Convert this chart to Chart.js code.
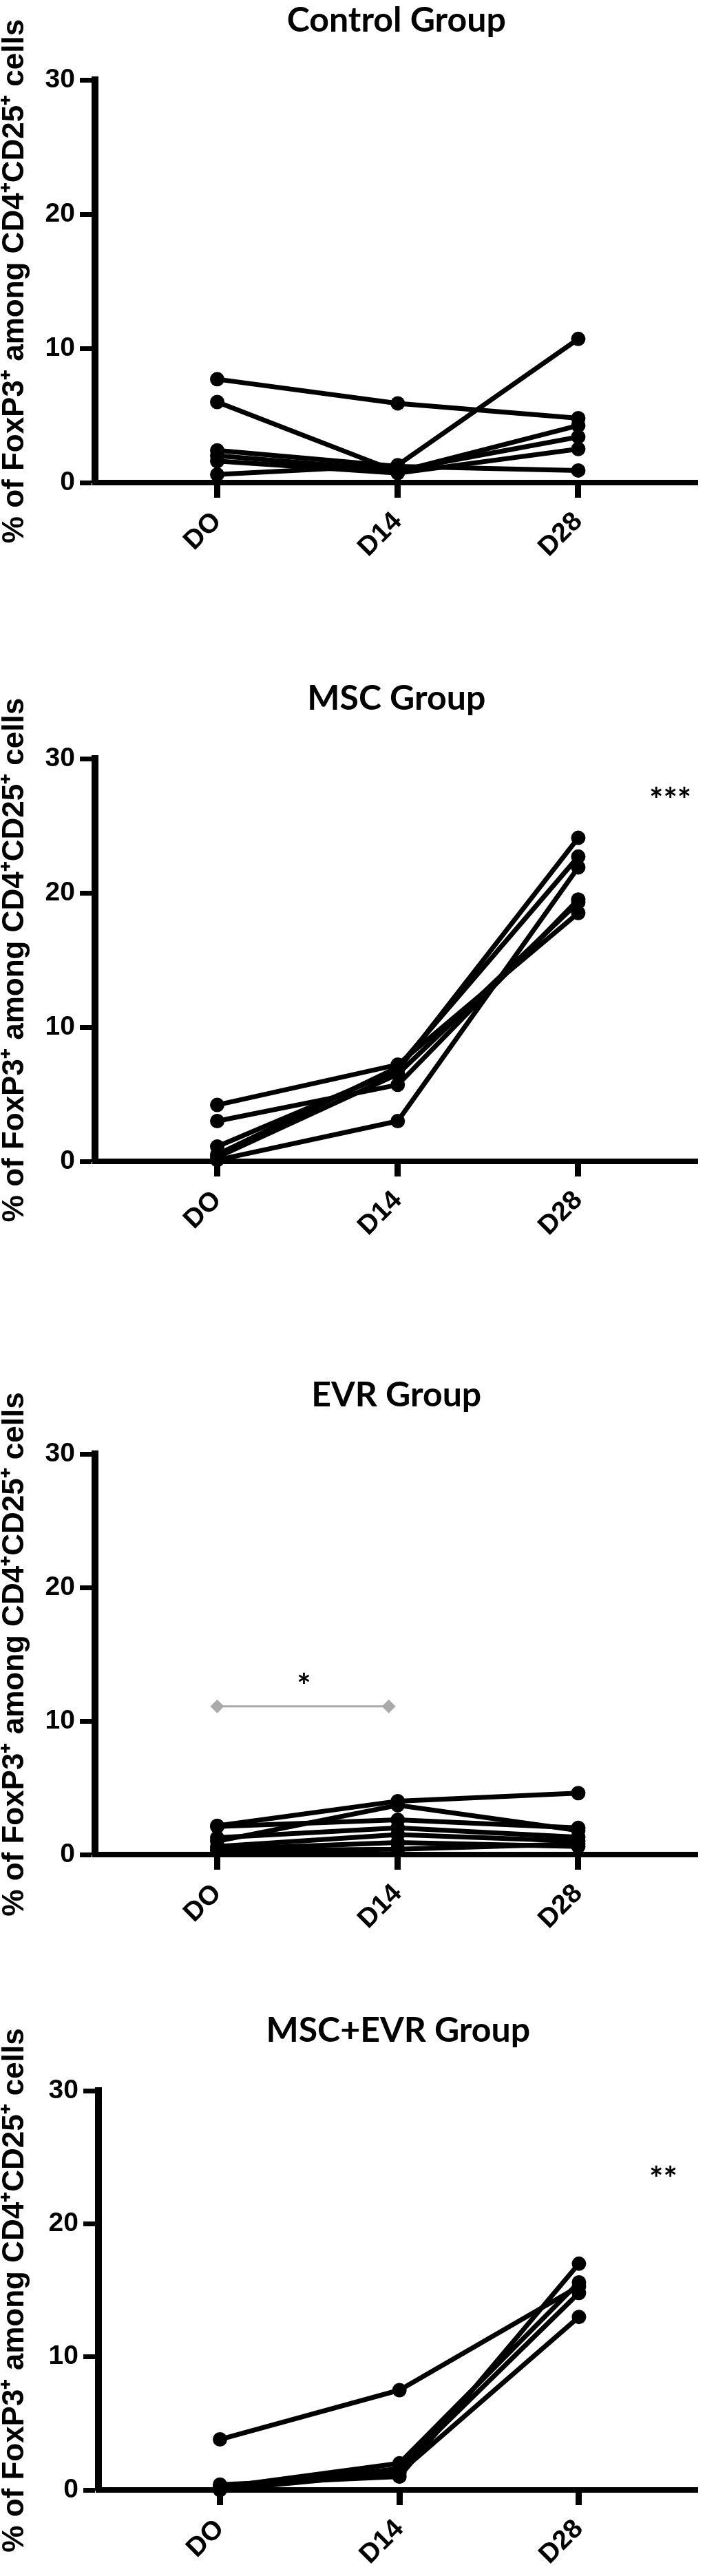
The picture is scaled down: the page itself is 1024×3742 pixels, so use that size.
<!DOCTYPE html>
<html>
<head>
<meta charset="utf-8">
<script src="https://cdn.jsdelivr.net/npm/chart.js@4/dist/chart.umd.min.js"></script>
<style>
  html, body { margin: 0; padding: 0; background: #fff; }
  body { width: 1024px; height: 3742px; position: relative; overflow: hidden; }
  .panel { position: absolute; left: 0; width: 1024px; height: 930px; }
</style>
</head>
<body>
<div class="panel" id="p0"><canvas id="c0"></canvas></div>
<div class="panel" id="p1"><canvas id="c1"></canvas></div>
<div class="panel" id="p2"><canvas id="c2"></canvas></div>
<div class="panel" id="p3"><canvas id="c3"></canvas></div>
<script>
// ---------- DATA ----------
const days = ['DO', 'D14', 'D28'];
const yTickValues = [0, 10, 20, 30];
const yAxisTitle = '% of FoxP3\u207A among CD4\u207ACD25\u207A cells';
const groupTitles = ['Control Group', 'MSC Group', 'EVR Group', 'MSC+EVR Group'];

// one row per animal: [DO, D14, D28]
const controlValues = [
  [7.7, 5.9, 4.8],
  [6.0, 0.8, 4.25],
  [2.4, 1.2, 0.9],
  [2.0, 0.9, 3.4],
  [1.6, 0.7, 2.5],
  [0.6, 1.3, 10.7]
];
const mscValues = [
  [4.2, 7.2, 18.5],
  [3.0, 5.7, 19.5],
  [1.1, 6.8, 24.1],
  [0.5, 7.0, 22.7],
  [0.1, 3.0, 21.9],
  [0.3, 6.5, 19.3]
];
const evrValues = [
  [2.15, 4.0, 4.6],
  [1.0, 3.7, 1.8],
  [2.1, 2.6, 2.0],
  [1.26, 2.0, 1.3],
  [0.6, 1.5, 1.0],
  [0.4, 0.9, 0.6],
  [0.3, 0.4, 0.8]
];
const mscEvrValues = [
  [3.8, 7.5, 15.3],
  [0.4, 1.0, 17.0],
  [0.2, 2.0, 15.6],
  [0.1, 1.6, 14.8],
  [0.0, 1.3, 13.0]
];
const groupValues = [controlValues, mscValues, evrValues, mscEvrValues];

// significance labels: position in data units (x = day index)
const starLabels = [
  [],
  [{ x: 2.51, y: 27.5, text: '***' }],
  [{ x: 0.48, y: 13.2, text: '*' }],
  [{ x: 2.47, y: 24.0, text: '**' }]
];
// grey comparison bar in EVR panel (DO -> D14)
const evrBarX = [0, 0.95];
const evrBarY = [11.1, 11.1];

// ---------- LAYOUT (page pixels) ----------
const panelLayout = [
  { top: 0,    titleY: 30,   axisTop: 116,  axisBottom: 701,  left: 138, right: 3 },
  { top: 960,  titleY: 1015, axisTop: 1102, axisBottom: 1687, left: 138, right: 3 },
  { top: 1960, titleY: 2027, axisTop: 2112, axisBottom: 2694, left: 138, right: 3 },
  { top: 2880, titleY: 2950, axisTop: 3037, axisBottom: 3617, left: 143, right: 0 }
];
const PANEL_H = 930;
const X_MIN = -0.677, X_MAX = 2.662;

const tickFont = { family: '"Liberation Sans", Arial, sans-serif', weight: 'bold', size: 39, lineHeight: 1.2 };
const axisTitleFont = { family: '"Liberation Sans", Arial, sans-serif', weight: 'bold', size: 44, lineHeight: 1.0 };
const titleFont = { family: 'Lato, "Open Sans", sans-serif', weight: 'bold', size: 50, lineHeight: 1.2 };
const starFont = 'bold 48px Lato, "Open Sans", sans-serif';

const starPlugin = {
  id: 'stars',
  afterDatasetsDraw(chart, args, opts) {
    const ctx = chart.ctx;
    const xs = chart.scales.x, ys = chart.scales.y;
    ctx.save();
    ctx.font = starFont;
    ctx.fillStyle = '#000';
    ctx.textAlign = 'center';
    ctx.textBaseline = 'alphabetic';
    (opts.labels || []).forEach(l => {
      const m = ctx.measureText(l.text);
      const px = xs.getPixelForValue(l.x);
      const py = ys.getPixelForValue(l.y);
      const off = (m.actualBoundingBoxAscent - m.actualBoundingBoxDescent) / 2;
      ctx.fillText(l.text, px, py + off);
    });
    ctx.restore();
  }
};

function makeChart(i) {
  const L = panelLayout[i];
  const panel = document.getElementById('p' + i);
  panel.style.top = L.top + 'px';
  const areaTop = L.axisTop - L.top;
  const areaBottom = L.axisBottom - L.top;
  const titleBox = titleFont.size * titleFont.lineHeight;
  const titlePadTop = (L.titleY - L.top) - titleBox / 2;
  const titlePadBottom = areaTop - titlePadTop - titleBox;

  const datasets = groupValues[i].map(row => ({
    data: row.map((v, j) => ({ x: j, y: v })),
    borderColor: '#000',
    backgroundColor: '#000',
    borderWidth: 7,
    pointRadius: 10.5,
    pointHoverRadius: 10.5,
    pointBackgroundColor: '#000',
    pointBorderColor: '#000',
    pointBorderWidth: 0,
    tension: 0,
    clip: false
  }));
  if (i === 2) {
    datasets.unshift({
      data: evrBarX.map((x, k) => ({ x, y: evrBarY[k] })),
      borderColor: '#aaaaaa',
      backgroundColor: '#aaaaaa',
      borderWidth: 3,
      pointStyle: 'rectRot',
      pointRadius: 10,
      pointHoverRadius: 10,
      pointBackgroundColor: '#aaaaaa',
      pointBorderColor: '#aaaaaa',
      pointBorderWidth: 0,
      clip: false
    });
  }

  new Chart(document.getElementById('c' + i), {
    type: 'line',
    data: { datasets },
    plugins: [starPlugin],
    options: {
      responsive: true,
      maintainAspectRatio: false,
      animation: false,
      events: [],
      layout: { padding: { top: 0, left: 0, right: L.right, bottom: 0 } },
      plugins: {
        legend: { display: false },
        tooltip: { enabled: false },
        title: {
          display: true,
          text: groupTitles[i],
          fullSize: false,
          color: '#000',
          font: titleFont,
          padding: { top: titlePadTop, bottom: titlePadBottom }
        },
        stars: { labels: starLabels[i] }
      },
      scales: {
        x: {
          type: 'linear',
          min: X_MIN,
          max: X_MAX,
          afterBuildTicks: s => { s.ticks = days.map((d, j) => ({ value: j })); },
          afterFit: s => { s.height = PANEL_H - areaBottom; },
          ticks: {
            callback: v => days[v],
            autoSkip: false,
            maxRotation: 45,
            minRotation: 45,
            padding: 12,
            color: '#000',
            font: tickFont
          },
          grid: {
            drawOnChartArea: false,
            drawTicks: true,
            tickLength: 22,
            tickWidth: 9,
            tickColor: '#000'
          },
          border: { display: true, color: '#000', width: 8 }
        },
        y: {
          type: 'linear',
          min: 0,
          max: 30,
          afterBuildTicks: s => { s.ticks = yTickValues.map(v => ({ value: v })); },
          afterFit: s => { s.width = L.left; },
          ticks: {
            padding: 7,
            color: '#000',
            font: tickFont
          },
          grid: {
            drawOnChartArea: false,
            drawTicks: true,
            tickLength: 22,
            tickWidth: 7,
            tickColor: '#000'
          },
          border: { display: true, color: '#000', width: 10 },
          title: {
            display: true,
            text: yAxisTitle,
            color: '#000',
            font: axisTitleFont,
            padding: { top: 0, bottom: 0 }
          }
        }
      }
    }
  });
}

for (let i = 0; i < 4; i++) makeChart(i);
</script>
</body>
</html>
